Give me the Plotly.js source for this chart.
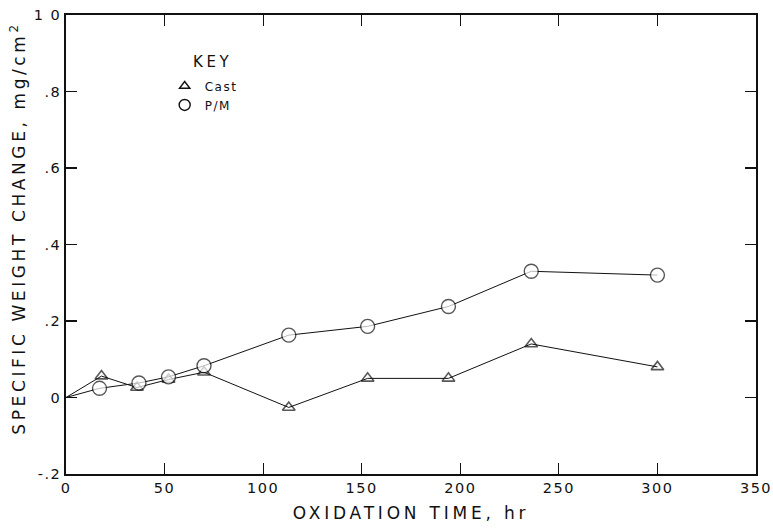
<!DOCTYPE html>
<html>
<head>
<meta charset="utf-8">
<script src="https://cdn.plot.ly/plotly-3.0.1.min.js"></script>
<style>
html,body{margin:0;padding:0;background:#fff;}
#chart{width:773px;height:529px;}
.xtitle{letter-spacing:3.8px;}
.annotation-text{letter-spacing:3.6px;}
.xtick text,.ytick text{letter-spacing:1.5px;}
.legendtext{letter-spacing:1.5px;}
</style>
</head>
<body>
<div id="chart"></div>
<script>
// Oxidation time, hr
const castTime = [0, 18, 36, 52, 70, 113, 153, 194, 236, 300];
const castChange = [0, 0.056, 0.026, 0.047, 0.066, -0.026, 0.05, 0.05, 0.14, 0.08];
const pmTime = [0, 17, 37, 52, 70, 113, 153, 194, 236, 300];
const pmChange = [0, 0.024, 0.038, 0.054, 0.083, 0.163, 0.186, 0.238, 0.33, 0.32];
const xTickVals = [0, 50, 100, 150, 200, 250, 300, 350];
const yTickVals = [-0.2, 0, 0.2, 0.4, 0.6, 0.8, 1.0];
const yTickText = ['-.2', '0', '.2', '.4', '.6', '.8', '1 0'];
const seriesNames = ['Cast', 'P/M'];
const xTitle = 'OXIDATION TIME, hr';
const yTitle = 'SPECIFIC WEIGHT CHANGE, mg/cm<sup>2</sup>';

const font = 'DejaVu Sans, Arial, sans-serif';
const sizesFor = (arr, s) => arr.map((v, i) => i === 0 ? 0 : s);

const traces = [
  {
    x: castTime, y: castChange, mode: 'lines+markers', showlegend: false,
    line: {color: '#111', width: 1},
    marker: {symbol: 'triangle-up-open', size: sizesFor(castTime, 11), color: '#111', line: {width: 1.6, color: '#111'}},
    cliponaxis: false
  },
  {
    x: pmTime, y: pmChange, mode: 'lines+markers', showlegend: false,
    line: {color: '#111', width: 1},
    marker: {symbol: 'circle', size: sizesFor(pmTime, 14), color: '#fff', line: {width: 1.4, color: '#111'}},
    cliponaxis: false
  },
  {
    x: [null], y: [null], mode: 'markers', name: seriesNames[0], showlegend: true,
    marker: {symbol: 'triangle-up-open', size: 9, color: '#111', line: {width: 1.4, color: '#111'}}
  },
  {
    x: [null], y: [null], mode: 'markers', name: seriesNames[1], showlegend: true,
    marker: {symbol: 'circle', size: 11, color: '#fff', line: {width: 1.4, color: '#111'}}
  }
];

const axisCommon = {
  showgrid: false, zeroline: false, showline: true, linecolor: '#111', linewidth: 1.8,
  mirror: 'ticks', ticks: 'inside', ticklen: 11, tickwidth: 1.2, tickcolor: '#111',
  tickfont: {family: font, size: 14.5, color: '#111'}
};

const layout = {
  width: 773, height: 529,
  margin: {l: 66, r: 17, t: 15, b: 55},
  paper_bgcolor: '#fff', plot_bgcolor: '#fff',
  font: {family: font, color: '#111'},
  xaxis: Object.assign({}, axisCommon, {
    range: [0, 350], tickvals: xTickVals,
    title: {text: xTitle, font: {family: font, size: 17, color: '#111'}, standoff: 12}
  }),
  yaxis: Object.assign({}, axisCommon, {
    range: [-0.2, 1.0], tickvals: yTickVals, ticktext: yTickText
  }),
  legend: {
    x: 0.143, y: 0.877, xanchor: 'left', yanchor: 'top',
    bgcolor: 'rgba(0,0,0,0)', font: {family: font, size: 12, color: '#111'},
    tracegroupgap: 0, itemwidth: 30
  },
  annotations: [
    {
      text: 'KEY', xref: 'paper', yref: 'paper', x: 0.212, y: 0.898, xanchor: 'center', yanchor: 'middle',
      showarrow: false, font: {family: font, size: 15, color: '#111'}
    },
    {
      text: yTitle, xref: 'paper', yref: 'paper', x: -0.07, y: 0.536, xanchor: 'center', yanchor: 'middle',
      textangle: -90, showarrow: false, font: {family: font, size: 17, color: '#111'}
    }
  ]
};

Plotly.newPlot('chart', traces, layout, {displayModeBar: false, staticPlot: true});
</script>
</body>
</html>
